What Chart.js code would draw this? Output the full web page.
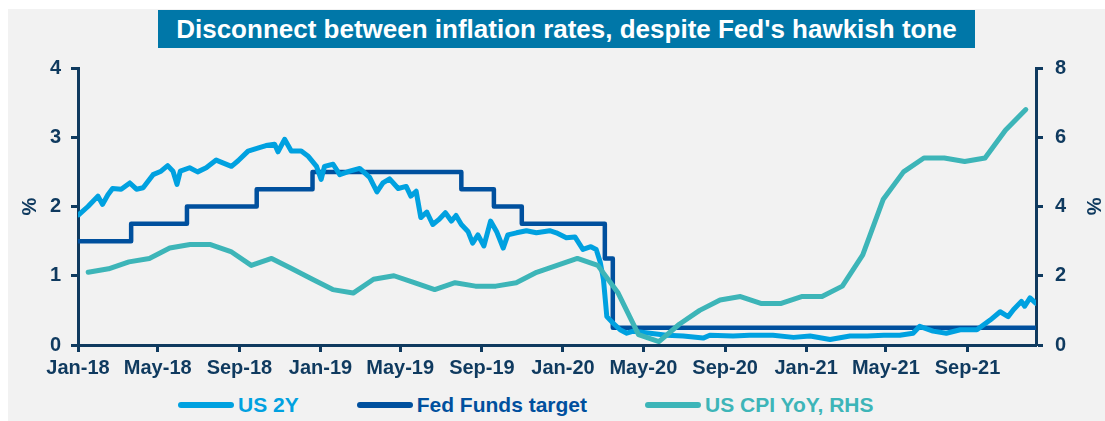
<!DOCTYPE html>
<html>
<head>
<meta charset="utf-8">
<script src="https://cdn.jsdelivr.net/npm/chart.js@4.4.1/dist/chart.umd.min.js"></script>
<style>
  html, body { margin: 0; padding: 0; background: #fff; }
  #wrap { position: relative; width: 1105px; height: 421px; overflow: hidden; font-family: "Liberation Sans", Arial, sans-serif; }
  #panel { position: absolute; left: 8px; top: 9px; right: 0; bottom: 0; background: #f2f2f2; }
  #title { position: absolute; left: 158px; top: 10px; width: 817px; height: 38px; background: #0077a8;
           color: #fff; font-weight: bold; font-size: 26px; line-height: 38px; text-align: center; white-space: nowrap; }
  #chartBox { position: absolute; left: 0; top: 44px; }
  #legend { position: absolute; left: 178px; top: 393px; height: 24px; display: flex; align-items: center;
            font-weight: bold; font-size: 21px; line-height: 24px; white-space: nowrap; }
  .item { display: flex; align-items: center; margin-right: 58px; }
  .swatch { display: inline-block; width: 56px; height: 6px; border-radius: 3px; margin-right: 4px; }
</style>
</head>
<body>
<div id="wrap">
  <div id="panel"></div>
  <div id="title">Disconnect between inflation rates, despite Fed's hawkish tone</div>
  <div id="chartBox"><canvas id="rateChart" width="1105" height="341"></canvas></div>
  <div id="legend"></div>
</div>
<script>
// US 2Y yield (%)
const us2yDates = [
  "2018-01-02","2018-01-16","2018-01-31","2018-02-07","2018-02-15","2018-02-22","2018-03-07","2018-03-20",
  "2018-03-30","2018-04-09","2018-04-24","2018-05-06","2018-05-16","2018-05-24","2018-05-30","2018-06-04",
  "2018-06-18","2018-06-30","2018-07-13","2018-07-28","2018-08-07","2018-08-20","2018-08-30","2018-09-14",
  "2018-10-01","2018-10-11","2018-10-24","2018-10-29","2018-11-08","2018-11-18","2018-12-03","2018-12-13",
  "2018-12-26","2019-01-02","2019-01-07","2019-01-20","2019-01-30","2019-02-14","2019-03-01","2019-03-16",
  "2019-03-27","2019-04-05","2019-04-15","2019-04-28","2019-05-10","2019-05-17","2019-05-25","2019-06-01",
  "2019-06-10","2019-06-19","2019-06-28","2019-07-08","2019-07-17","2019-07-24","2019-08-01","2019-08-11",
  "2019-08-18","2019-08-26","2019-09-04","2019-09-14","2019-09-23","2019-10-03","2019-10-10","2019-10-23",
  "2019-11-07","2019-11-22","2019-12-12","2019-12-22","2020-01-06","2020-01-19","2020-01-31","2020-02-12",
  "2020-02-20","2020-02-26","2020-03-02","2020-03-07","2020-03-17","2020-03-27","2020-04-06","2020-04-16",
  "2020-05-11","2020-06-05","2020-06-30","2020-07-30","2020-08-09","2020-09-13","2020-10-08","2020-11-12",
  "2020-12-13","2021-01-07","2021-02-06","2021-03-08","2021-04-03","2021-04-28","2021-05-22","2021-06-11",
  "2021-06-21","2021-07-11","2021-07-31","2021-08-21","2021-09-15","2021-10-05","2021-10-20","2021-11-01",
  "2021-11-09","2021-11-21","2021-11-26","2021-12-04","2021-12-13"
];
const us2yYield = [
  1.88, 2.00, 2.15, 2.03, 2.17, 2.26, 2.25, 2.34,
  2.25, 2.27, 2.46, 2.51, 2.59, 2.51, 2.32, 2.51,
  2.56, 2.50, 2.56, 2.67, 2.63, 2.58, 2.66, 2.80,
  2.85, 2.88, 2.90, 2.79, 2.97, 2.80, 2.80, 2.73,
  2.58, 2.39, 2.58, 2.61, 2.46, 2.51, 2.55, 2.42,
  2.21, 2.34, 2.40, 2.26, 2.29, 2.15, 2.22, 1.84,
  1.92, 1.74, 1.81, 1.91, 1.79, 1.87, 1.74, 1.64,
  1.47, 1.59, 1.43, 1.79, 1.64, 1.40, 1.59, 1.62,
  1.65, 1.62, 1.65, 1.62, 1.55, 1.56, 1.38, 1.42,
  1.38, 1.20, 0.94, 0.41, 0.31, 0.22, 0.17, 0.20,
  0.17, 0.14, 0.13, 0.10, 0.14, 0.13, 0.14, 0.14,
  0.11, 0.13, 0.08, 0.13, 0.13, 0.14, 0.14, 0.17,
  0.27, 0.20, 0.17, 0.22, 0.22, 0.36, 0.48, 0.41,
  0.51, 0.63, 0.56, 0.68, 0.60
];

// Fed Funds target (upper bound), value from each change date
const ffDates = ["2018-01-01","2018-03-22","2018-06-14","2018-09-27","2018-12-20","2019-08-01",
                 "2019-09-19","2019-10-31","2020-03-04","2020-03-16","2021-12-13"];
const ffTarget = [1.5, 1.75, 2.0, 2.25, 2.5, 2.25, 2.0, 1.75, 1.25, 0.25, 0.25];

// US CPI YoY (RHS), monthly
const cpiMonths = [
  "Jan-18","Feb-18","Mar-18","Apr-18","May-18","Jun-18","Jul-18","Aug-18","Sep-18","Oct-18","Nov-18","Dec-18",
  "Jan-19","Feb-19","Mar-19","Apr-19","May-19","Jun-19","Jul-19","Aug-19","Sep-19","Oct-19","Nov-19","Dec-19",
  "Jan-20","Feb-20","Mar-20","Apr-20","May-20","Jun-20","Jul-20","Aug-20","Sep-20","Oct-20","Nov-20","Dec-20",
  "Jan-21","Feb-21","Mar-21","Apr-21","May-21","Jun-21","Jul-21","Aug-21","Sep-21","Oct-21","Nov-21"
];
const cpiYoY = [
  2.1, 2.2, 2.4, 2.5, 2.8, 2.9, 2.9, 2.7, 2.3, 2.5, 2.2, 1.9,
  1.6, 1.5, 1.9, 2.0, 1.8, 1.6, 1.8, 1.7, 1.7, 1.8, 2.1, 2.3,
  2.5, 2.3, 1.5, 0.3, 0.1, 0.6, 1.0, 1.3, 1.4, 1.2, 1.2, 1.4,
  1.4, 1.7, 2.6, 4.2, 5.0, 5.4, 5.4, 5.3, 5.4, 6.2, 6.8
];

// x axis tick labels
const tickDates = ["2018-01-01","2018-05-01","2018-09-01","2019-01-01","2019-05-01","2019-09-01",
                   "2020-01-01","2020-05-01","2020-09-01","2021-01-01","2021-05-01","2021-09-01"];
const tickLabels = ["Jan-18","May-18","Sep-18","Jan-19","May-19","Sep-19",
                    "Jan-20","May-20","Sep-20","Jan-21","May-21","Sep-21"];
const axisEnd = "2021-12-13";

const navy = "#0f3a5f";
const col2y = "#00a1e0";
const colFF = "#00509e";
const colCPI = "#3db5b8";

// days since 1 Jan 2018
function dayNum(s) {
  const [y, m, d] = s.split("-").map(Number);
  return (Date.UTC(y, m - 1, d) - Date.UTC(2018, 0, 1)) / 86400000;
}

const tickFont = { family: "'Liberation Sans', Arial, sans-serif", weight: "bold", size: 20 };

// legend as html
const legendItems = [
  { label: "US 2Y", color: col2y },
  { label: "Fed Funds target", color: colFF },
  { label: "US CPI YoY, RHS", color: colCPI },
];
const legendEl = document.getElementById("legend");
legendItems.forEach((it) => {
  const div = document.createElement("div");
  div.className = "item";
  const sw = document.createElement("span");
  sw.className = "swatch";
  sw.style.background = it.color;
  const txt = document.createElement("span");
  txt.textContent = it.label;
  txt.style.color = it.color;
  div.appendChild(sw);
  div.appendChild(txt);
  legendEl.appendChild(div);
});

const ctx = document.getElementById("rateChart").getContext("2d");
new Chart(ctx, {
  type: "line",
  data: {
    datasets: [
      {
        label: "US 2Y",
        data: us2yDates.map((d, i) => ({ x: dayNum(d), y: us2yYield[i] })),
        xAxisID: "x",
        yAxisID: "y",
        borderColor: col2y,
        backgroundColor: col2y,
        borderWidth: 5,
        borderCapStyle: "round",
        borderJoinStyle: "round",
        pointRadius: 0,
        order: 1,
      },
      {
        label: "Fed Funds target",
        data: ffDates.map((d, i) => ({ x: dayNum(d), y: ffTarget[i] })),
        xAxisID: "x",
        yAxisID: "y",
        stepped: "before",
        borderColor: colFF,
        backgroundColor: colFF,
        borderWidth: 4.5,
        borderJoinStyle: "round",
        pointRadius: 0,
        order: 2,
      },
      {
        label: "US CPI YoY, RHS",
        data: cpiYoY,
        xAxisID: "x2",
        yAxisID: "y2",
        borderColor: colCPI,
        backgroundColor: colCPI,
        borderWidth: 5,
        borderCapStyle: "round",
        borderJoinStyle: "round",
        pointRadius: 0,
        order: 0,
      },
    ],
  },
  options: {
    responsive: false,
    animation: false,
    devicePixelRatio: 1,
    layout: { padding: { top: 12, left: 0, right: 0, bottom: 0 } },
    plugins: { legend: { display: false }, tooltip: { enabled: false } },
    scales: {
      x: {
        type: "linear",
        min: 0,
        max: dayNum(axisEnd),
        afterBuildTicks: (s) => { s.ticks = tickDates.map((d) => ({ value: dayNum(d) })); },
        afterFit: (s) => { s.height = 40; },
        ticks: {
          autoSkip: false,
          maxRotation: 0,
          padding: 4,
          color: navy,
          font: tickFont,
          callback: (v, i) => tickLabels[i],
        },
        grid: { drawOnChartArea: false, drawTicks: true, tickLength: 7, tickWidth: 3, tickColor: navy },
        border: { color: navy, width: 3 },
      },
      x2: {
        type: "category",
        labels: cpiMonths,
        offset: true,
        display: false,
      },
      y: {
        position: "left",
        min: 0,
        max: 4,
        afterFit: (s) => { s.width = 78; },
        ticks: { stepSize: 1, padding: 10, color: navy, font: tickFont },
        grid: { drawOnChartArea: false, drawTicks: true, tickLength: 7, tickWidth: 3, tickColor: navy },
        border: { color: navy, width: 3 },
        title: { display: true, text: "%", color: navy, font: tickFont, padding: { top: 18, bottom: 0 } },
      },
      y2: {
        position: "right",
        min: 0,
        max: 8,
        afterFit: (s) => { s.width = 69; },
        ticks: { stepSize: 2, padding: 12, color: navy, font: tickFont },
        grid: { drawOnChartArea: false, drawTicks: true, tickLength: 7, tickWidth: 3, tickColor: navy },
        border: { color: navy, width: 3 },
        title: { display: true, text: "%", color: navy, font: tickFont, padding: { top: 0, bottom: 0 } },
      },
    },
  },
});
</script>
</body>
</html>
